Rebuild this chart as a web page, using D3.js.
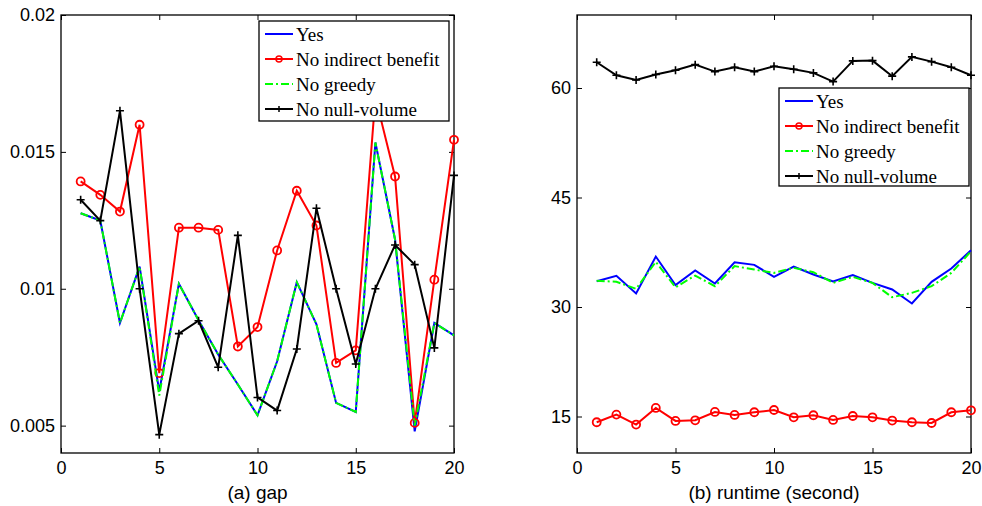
<!DOCTYPE html>
<html>
<head>
<meta charset="utf-8">
<script src="https://cdn.jsdelivr.net/npm/d3@7"></script>
<style>
  body { margin: 0; background: #fff; }
  .tick text { font-family: "Liberation Sans", Arial, sans-serif; font-size: 18px; fill: #000; }
  .lgd text { font-family: "Liberation Serif", "Times New Roman", serif; font-size: 19px; }
</style>
</head>
<body>
<div id="chart"></div>
<script>
// x positions (runs 1..20)
var runs = d3.range(1, 21);

// (a) gap
var gapYes = [0.01276, 0.01249, 0.00875, 0.01081, 0.00625, 0.01018, 0.00885, 0.0076, 0.0065, 0.00538,
              0.00735, 0.01024, 0.0087, 0.00583, 0.0055, 0.01534, 0.0118, 0.00479, 0.00875, 0.0083];
var gapNoIndirect = [0.01392, 0.01343, 0.01282, 0.01599, 0.00692, 0.01223, 0.01223, 0.01215, 0.00789, 0.0086,
                     0.0114, 0.01358, 0.01231, 0.00729, 0.00775, 0.0170, 0.0141, 0.0051, 0.01033, 0.01544];
var gapNoGreedy = [0.01276, 0.01249, 0.00875, 0.01081, 0.0061, 0.01018, 0.00885, 0.0076, 0.0065, 0.00538,
                   0.00735, 0.01024, 0.0087, 0.00583, 0.0055, 0.01534, 0.0118, 0.0050, 0.00875, 0.0083];
var gapNoNull = [0.01325, 0.01249, 0.0165, 0.0100, 0.00467, 0.00836, 0.00883, 0.00713, 0.01195, 0.00603,
                 0.00555, 0.0078, 0.01294, 0.0100, 0.00725, 0.0100, 0.0116, 0.01088, 0.00784, 0.01414];

// (b) runtime (second)
var rtYes = [33.53, 34.27, 31.85, 36.91, 32.99, 35.0, 33.22, 36.13, 35.77, 34.13,
             35.54, 34.45, 33.49, 34.36, 33.31, 32.4, 30.48, 33.45, 35.27, 37.77];
var rtNoIndirect = [14.21, 15.26, 13.9, 16.17, 14.39, 14.48, 15.62, 15.21, 15.58, 15.89,
                    14.89, 15.17, 14.53, 15.07, 14.89, 14.44, 14.21, 14.11, 15.58, 15.85];
var rtNoGreedy = [33.6, 33.45, 32.49, 36.18, 32.7, 34.31, 32.85, 35.6, 35.13, 34.67,
                  35.36, 34.77, 33.31, 34.13, 33.3, 31.34, 31.94, 32.85, 34.67, 37.63];
var rtNoNull = [63.53, 61.75, 61.11, 61.84, 62.44, 63.2, 62.25, 62.85, 62.25, 62.98,
                62.57, 62.07, 60.88, 63.71, 63.75, 61.62, 64.26, 63.61, 62.85, 61.75];

var seriesNames = ["Yes", "No indirect benefit", "No greedy", "No null-volume"];
var xTicks = [0, 5, 10, 15, 20];
var gapTicks = [0.005, 0.01, 0.015, 0.02];
var gapTickLabels = ["0.005", "0.01", "0.015", "0.02"];
var rtTicks = [15, 30, 45, 60];

var styles = [
    {color: "#0000ff", dash: null, marker: null},
    {color: "#ff0000", dash: null, marker: "o"},
    {color: "#00ff00", dash: "8,3,2,3", marker: null},
    {color: "#000000", dash: null, marker: "+"}
];

var svg = d3.select("#chart").append("svg")
    .attr("width", 982)
    .attr("height", 506);

function drawPanel(opt) {
    var x = d3.scaleLinear().domain([0, 20]).range([opt.left, opt.right]);
    var y = d3.scaleLinear().domain(opt.yDomain).range([opt.bottom, opt.top]);
    var g = svg.append("g");

    var fmt = function (d, i) { return opt.yLabels ? opt.yLabels[i] : d; };

    g.append("g").attr("transform", "translate(0," + opt.bottom + ")")
        .call(d3.axisBottom(x).tickValues(xTicks).tickSizeInner(-5).tickSizeOuter(0).tickPadding(8));
    g.append("g").attr("transform", "translate(0," + opt.top + ")")
        .call(d3.axisTop(x).tickValues(xTicks).tickSizeInner(-5).tickSizeOuter(0).tickFormat(""));
    g.append("g").attr("transform", "translate(" + opt.left + ",0)")
        .call(d3.axisLeft(y).tickValues(opt.yTicks).tickSizeInner(-5).tickSizeOuter(0).tickPadding(6).tickFormat(fmt));
    g.append("g").attr("transform", "translate(" + opt.right + ",0)")
        .call(d3.axisRight(y).tickValues(opt.yTicks).tickSizeInner(-5).tickSizeOuter(0).tickFormat(""));
    g.selectAll(".domain").remove();
    g.selectAll(".tick line").attr("stroke", "#000");

    g.append("rect")
        .attr("x", opt.left).attr("y", opt.top)
        .attr("width", opt.right - opt.left).attr("height", opt.bottom - opt.top)
        .attr("fill", "none").attr("stroke", "#000").attr("stroke-width", 1.3);

    var line = d3.line().x(function (d, i) { return x(runs[i]); }).y(function (d) { return y(d); });

    opt.series.forEach(function (vals, k) {
        var st = styles[k];
        g.append("path").datum(vals)
            .attr("d", line)
            .attr("fill", "none")
            .attr("stroke", st.color)
            .attr("stroke-width", 2)
            .attr("stroke-dasharray", st.dash);
        if (st.marker == "o") {
            g.selectAll(null).data(vals).enter().append("circle")
                .attr("cx", function (d, i) { return x(runs[i]); })
                .attr("cy", function (d) { return y(d); })
                .attr("r", 4)
                .attr("fill", "none").attr("stroke", st.color).attr("stroke-width", 1.8);
        }
        if (st.marker == "+") {
            g.selectAll(null).data(vals).enter().append("path")
                .attr("d", function (d, i) {
                    var cx = x(runs[i]), cy = y(d);
                    return "M" + (cx - 4) + "," + cy + "H" + (cx + 4) + "M" + cx + "," + (cy - 4) + "V" + (cy + 4);
                })
                .attr("stroke", st.color).attr("stroke-width", 1.6);
        }
    });

    g.append("text")
        .attr("x", (opt.left + opt.right) / 2)
        .attr("y", 499)
        .attr("text-anchor", "middle")
        .style("font-family", "Liberation Sans, Arial, sans-serif")
        .style("font-size", "19px")
        .text(opt.xLabel);

    // legend
    var L = opt.legend;
    var lg = g.append("g").attr("class", "lgd");
    lg.append("rect")
        .attr("x", L.x).attr("y", L.y).attr("width", L.w).attr("height", L.h)
        .attr("fill", "#fff").attr("stroke", "#000").attr("stroke-width", 1.3);
    seriesNames.forEach(function (name, k) {
        var st = styles[k];
        var cy = L.y + 13 + k * 25;
        var x0 = L.x + 6, x1 = L.x + 34;
        lg.append("line")
            .attr("x1", x0).attr("x2", x1).attr("y1", cy).attr("y2", cy)
            .attr("stroke", st.color).attr("stroke-width", 2)
            .attr("stroke-dasharray", st.dash);
        if (st.marker == "o") {
            lg.append("circle").attr("cx", (x0 + x1) / 2).attr("cy", cy).attr("r", 3)
                .attr("fill", "none").attr("stroke", st.color).attr("stroke-width", 1.5);
        }
        if (st.marker == "+") {
            var mx = (x0 + x1) / 2;
            lg.append("path")
                .attr("d", "M" + (mx - 3) + "," + cy + "H" + (mx + 3) + "M" + mx + "," + (cy - 3) + "V" + (cy + 3))
                .attr("stroke", st.color).attr("stroke-width", 1.5);
        }
        lg.append("text")
            .attr("x", L.x + 37).attr("y", cy)
            .attr("dy", "0.35em")
            .text(name);
    });
}

drawPanel({
    left: 61, right: 454, top: 15, bottom: 453,
    yDomain: [0.004, 0.02], yTicks: gapTicks, yLabels: gapTickLabels,
    series: [gapYes, gapNoIndirect, gapNoGreedy, gapNoNull],
    xLabel: "(a) gap",
    legend: {x: 259, y: 21, w: 190, h: 100}
});

drawPanel({
    left: 577, right: 971, top: 15, bottom: 453,
    yDomain: [10, 70], yTicks: rtTicks, yLabels: null,
    series: [rtYes, rtNoIndirect, rtNoGreedy, rtNoNull],
    xLabel: "(b) runtime (second)",
    legend: {x: 779, y: 88, w: 190, h: 98}
});
</script>
</body>
</html>
